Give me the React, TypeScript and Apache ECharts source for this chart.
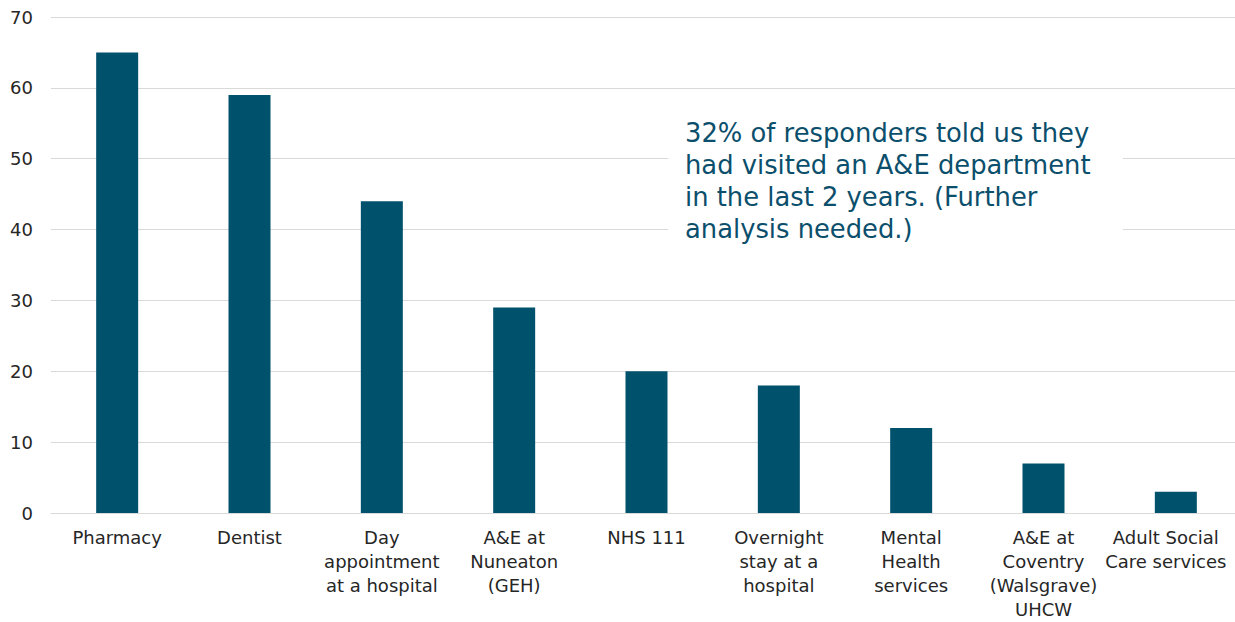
import React, { useEffect, useRef } from "react";
import * as echarts from "echarts";

const categories = [
  "Pharmacy",
  "Dentist",
  "Day\nappointment\nat a hospital",
  "A&E at\nNuneaton\n(GEH)",
  "NHS 111",
  "Overnight\nstay at a\nhospital",
  "Mental\nHealth\nservices",
  "A&E at\nCoventry\n(Walsgrave)\nUHCW",
  "Adult Social\nCare services",
];
const values = [65, 59, 44, 29, 20, 18, 12, 7, 3];
const annotationLines = [
  "32% of responders told us they",
  "had visited an A&E department",
  "in the last 2 years. (Further",
  "analysis needed.)",
];

export default function App() {
  const ref = useRef<HTMLDivElement>(null);
  useEffect(() => {
    const chart = echarts.init(ref.current!, null, { renderer: "svg" });
    const lastIdx = categories.length - 1;
    chart.setOption({
      animation: false,
      backgroundColor: "#ffffff",
      grid: { left: 51, width: 1191, top: 17, bottom: 109, outerBoundsMode: "none", containLabel: false },
      xAxis: {
        type: "category",
        data: categories.map((c, i) =>
          i === lastIdx ? { value: c, textStyle: { padding: [0, 20, 0, 0] } } : c
        ),
        axisTick: { show: false },
        axisLine: { show: true, lineStyle: { color: "#d9d9d9", width: 1 } },
        axisLabel: {
          interval: 0,
          color: "#262626",
          fontFamily: "'DejaVu Sans', sans-serif",
          fontSize: 18,
          lineHeight: 24,
          margin: 12,
        },
      },
      yAxis: {
        type: "value",
        min: 0,
        max: 70,
        interval: 10,
        axisLine: { show: false },
        axisTick: { show: false },
        splitLine: { lineStyle: { color: "#d9d9d9", width: 1 } },
        axisLabel: {
          color: "#262626",
          fontFamily: "'DejaVu Sans', sans-serif",
          fontSize: 18,
          margin: 18,
        },
      },
      series: [
        {
          type: "bar",
          data: values,
          barWidth: 42,
          itemStyle: { color: "#00516c" },
        },
      ],
      graphic: [
        {
          type: "rect",
          shape: { x: 668, y: 110, width: 455, height: 136 },
          style: { fill: "#ffffff" },
          z: 100,
        },
        ...annotationLines.map((t, i) => ({
          type: "text",
          x: 685,
          y: 133 + i * 32,
          z: 101,
          style: {
            text: t,
            fill: "#0b4f6c",
            font: "25.8px 'DejaVu Sans', sans-serif",
            verticalAlign: "middle",
          },
        })),
      ],
    });
    return () => chart.dispose();
  }, []);
  return (
    <div
      ref={ref}
      style={{ position: "absolute", left: 0, top: 0, width: 1235, height: 622 }}
    />
  );
}
